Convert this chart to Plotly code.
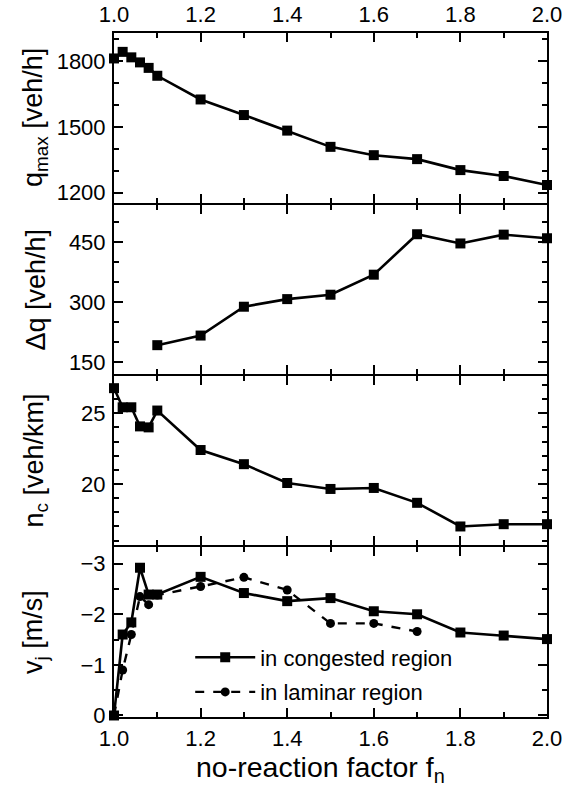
import plotly.graph_objects as go

# ---------------- data ----------------
x_all = [1.0, 1.02, 1.04, 1.06, 1.08, 1.1, 1.2, 1.3, 1.4, 1.5, 1.6, 1.7, 1.8, 1.9, 2.0]
q_max = [1812, 1842, 1817, 1794, 1769, 1733, 1625, 1554, 1483, 1409, 1371, 1353, 1303, 1276, 1235]

x_dq = [1.1, 1.2, 1.3, 1.4, 1.5, 1.6, 1.7, 1.8, 1.9, 2.0]
dq = [193, 217, 289, 308, 319, 369, 470, 447, 469, 460]

n_c = [26.77, 25.42, 25.42, 24.07, 24.0, 25.19, 22.40, 21.40, 20.07, 19.65, 19.72, 18.67, 17.0, 17.16, 17.16]

v_cong = [0.0, -1.6, -1.84, -2.92, -2.39, -2.39, -2.74, -2.42, -2.26, -2.32, -2.06, -2.0, -1.64, -1.58, -1.51]

x_lam = [1.0, 1.02, 1.04, 1.06, 1.08, 1.1, 1.2, 1.3, 1.4, 1.5, 1.6, 1.7]
v_lam = [0.0, -0.9, -1.6, -2.35, -2.19, -2.38, -2.55, -2.73, -2.48, -1.82, -1.82, -1.66]

x_ticks = [1.0, 1.2, 1.4, 1.6, 1.8, 2.0]
x_ticklabels = ["1.0", "1.2", "1.4", "1.6", "1.8", "2.0"]

FONT = "Liberation Sans, Arial, sans-serif"
BLACK = "black"

fig = go.Figure()

sq = dict(symbol="square", size=10, color=BLACK)
ln = dict(color=BLACK, width=2.6)

fig.add_trace(go.Scatter(x=x_all, y=q_max, mode="lines+markers", marker=sq, line=ln,
                         xaxis="x", yaxis="y", showlegend=False, cliponaxis=False))
fig.add_trace(go.Scatter(x=x_dq, y=dq, mode="lines+markers", marker=sq, line=ln,
                         xaxis="x2", yaxis="y2", showlegend=False, cliponaxis=False))
fig.add_trace(go.Scatter(x=x_all, y=n_c, mode="lines+markers", marker=sq, line=ln,
                         xaxis="x3", yaxis="y3", showlegend=False, cliponaxis=False))
fig.add_trace(go.Scatter(x=x_all, y=v_cong, mode="lines+markers", name="in congested region",
                         legendgroup="c", marker=sq, line=ln, xaxis="x4", yaxis="y4",
                         cliponaxis=False))
fig.add_trace(go.Scatter(x=x_lam, y=v_lam, mode="lines+markers", name="in laminar region",
                         legendgroup="l", marker=dict(symbol="circle", size=9, color=BLACK),
                         line=dict(color=BLACK, width=2.4, dash="dash"),
                         xaxis="x4", yaxis="y4", cliponaxis=False))

common_x = dict(range=[1.0, 2.0], tickvals=x_ticks, ticktext=x_ticklabels,
                ticks="inside", ticklen=9, tickwidth=2, tickcolor=BLACK,
                showline=True, linewidth=2, linecolor=BLACK, mirror="allticks",
                showgrid=False, zeroline=False, automargin=False,
                tickfont=dict(family=FONT, size=22, color=BLACK),
                minor=dict(dtick=0.1, tick0=1.0, ticks="inside", ticklen=5, tickwidth=1.5,
                           tickcolor=BLACK, showgrid=False))

def yax(rng, dtick, minor_dtick, domain, anchor):
    return dict(range=rng, dtick=dtick, tick0=0, domain=domain, anchor=anchor,
                ticks="inside", ticklen=9, tickwidth=2, tickcolor=BLACK,
                showline=True, linewidth=2, linecolor=BLACK, mirror="allticks",
                showgrid=False, zeroline=False, ticklabelstandoff=2, automargin=False,
                tickfont=dict(family=FONT, size=22, color=BLACK),
                minor=dict(dtick=minor_dtick, tick0=0, ticks="inside", ticklen=5, tickwidth=1.5,
                           tickcolor=BLACK, showgrid=False))

TOP, BOT = 33, 717
H = BOT - TOP

def py(px):
    return (BOT - px) / H

# panel boundaries (screen px) with a 2px gap so the adjacent axis lines coincide
dom1 = [py(203), 1.0]
dom2 = [py(374), py(205)]
dom3 = [py(545), py(376)]
dom4 = [0.0, py(547)]

fig.update_layout(
    width=581, height=789,
    margin=dict(l=114, r=34, t=TOP, b=789 - BOT, autoexpand=False),
    paper_bgcolor="white", plot_bgcolor="white",
    font=dict(family=FONT, color=BLACK),
    xaxis=dict(common_x, anchor="y", side="top", showticklabels=True, ticklabelstandoff=0),
    xaxis2=dict(common_x, anchor="y2", matches="x", showticklabels=False),
    xaxis3=dict(common_x, anchor="y3", matches="x", showticklabels=False),
    xaxis4=dict(common_x, anchor="y4", matches="x", side="bottom", showticklabels=True,
                ticklabelstandoff=1),
    yaxis=yax([1153, 1928], 300, 100, dom1, "x"),
    yaxis2=yax([121, 543], 150, 50, dom2, "x2"),
    yaxis3=yax([15.69, 27.63], 5, 1, dom3, "x3"),
    yaxis4=yax([0.03, -3.33], 1, 0.5, dom4, "x4"),
    legend=dict(x=0.176, y=0.1177, xanchor="left", yanchor="top",
                bgcolor="rgba(0,0,0,0)", borderwidth=0,
                font=dict(family=FONT, size=22, color=BLACK),
                itemwidth=60, tracegroupgap=3),
)

ytitles = ["q<sub>max</sub> [veh/h]", "Δq [veh/h]", "n<sub>c</sub> [veh/km]", "v<sub>j</sub> [m/s]"]
centers = [(33 + 203) / 2, (205 + 374) / 2, (376 + 545) / 2, (547 + 717) / 2]
for t, c in zip(ytitles, centers):
    fig.add_annotation(text=t, xref="paper", yref="paper", x=(35 - 114) / 433, y=py(c),
                       xanchor="center", yanchor="middle", textangle=-90, showarrow=False,
                       font=dict(family=FONT, size=27, color=BLACK))

fig.add_annotation(text="no-reaction factor f<sub>n</sub>", xref="paper", yref="paper",
                   x=(320 - 114) / 433, y=py(769), xanchor="center", yanchor="middle",
                   showarrow=False, font=dict(family=FONT, size=28.5, color=BLACK))

fig.write_html("out.html", config={"displayModeBar": False},
               post_script="document.body.style.margin='0';")
